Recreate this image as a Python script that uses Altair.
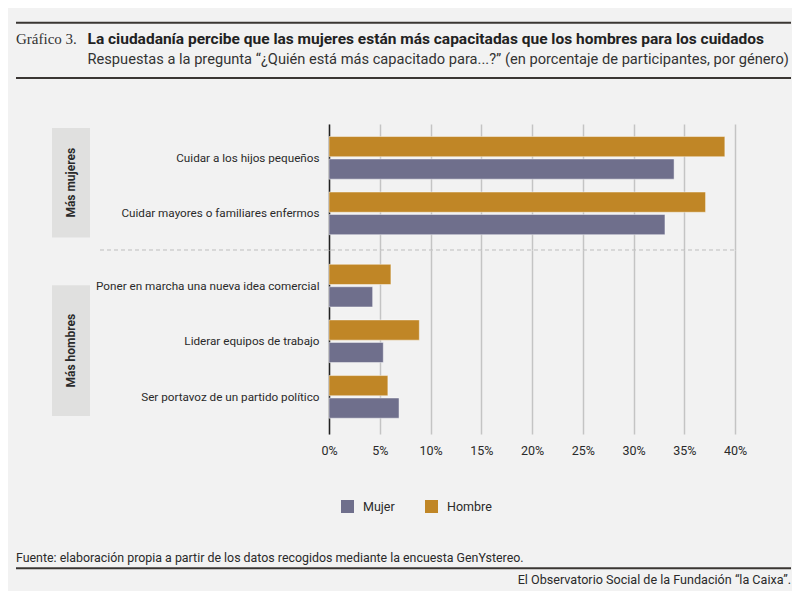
import altair as alt
import pandas as pd

# ---- data ----
items_top = ["Cuidar a los hijos pequeños", "Cuidar mayores o familiares enfermos"]
mujer_top = [34.0, 33.1]
hombre_top = [39.0, 37.1]

items_bottom = ["Poner en marcha una nueva idea comercial", "Liderar equipos de trabajo",
                "Ser portavoz de un partido político"]
mujer_bottom = [4.3, 5.35, 6.9]
hombre_bottom = [6.1, 8.9, 5.8]

group_labels = ["Más mujeres", "Más hombres"]
genders = ["Mujer", "Hombre"]
gender_colors = ["#6f6f8c", "#c08626"]
x_ticks = [0, 5, 10, 15, 20, 25, 30, 35, 40]

title_label = "Gráfico 3."
title_text = "La ciudadanía percibe que las mujeres están más capacitadas que los hombres para los cuidados"
subtitle_text = "Respuestas a la pregunta “¿Quién está más capacitado para...?” (en porcentaje de participantes, por género)"
source_text = "Fuente: elaboración propia a partir de los datos recogidos mediante la encuesta GenYstereo."
credit_text = "El Observatorio Social de la Fundación “la Caixa”."

W = 406
RIGHT = 462
LEFT = -313
FONT = "Roboto"
INK = "#2a2a2a"
LINE = "#3a3633"


def one(text=""):
    return pd.DataFrame({"t": [text]})


def bars_layer(items, mujer, hombre, height, pad_outer, align, bottom):
    n = len(items)
    df = pd.DataFrame({
        "item": items * 2,
        "genero": ["Mujer"] * n + ["Hombre"] * n,
        "valor": mujer + hombre,
    })
    if bottom:
        xaxis = alt.Axis(title=None, values=x_ticks, labelExpr="datum.value + '%'",
                         grid=True, domain=False, ticks=False, labelPadding=10,
                         labelFlush=False, labelFontSize=12.5, labelColor=INK,
                         labelFont=FONT)
    else:
        xaxis = alt.Axis(title=None, values=x_ticks, labels=False, ticks=False,
                         domain=False, grid=True)
    return alt.Chart(df).mark_bar(stroke="#ffffff", strokeOpacity=0.45, strokeWidth=1).encode(
        x=alt.X("valor:Q", scale=alt.Scale(domain=[0, 40], nice=False), axis=xaxis),
        y=alt.Y("item:N", sort=items,
                scale=alt.Scale(paddingInner=0.232, paddingOuter=pad_outer, align=align),
                axis=alt.Axis(title=None, ticks=False, grid=False, domain=True,
                              domainColor="#222222", domainWidth=1.5,
                              labelPadding=10, labelFontSize=11.7, labelColor=INK,
                              labelFont=FONT, labelLimit=300)),
        yOffset=alt.YOffset("genero:N", sort=["Hombre", "Mujer"],
                            scale=alt.Scale(paddingInner=0.1, paddingOuter=0)),
        color=alt.Color("genero:N", scale=alt.Scale(domain=genders, range=gender_colors),
                        legend=alt.Legend(title=None, orient="none", direction="horizontal",
                                          legendX=12, legendY=376, symbolType="square",
                                          symbolSize=169, symbolStrokeWidth=0,
                                          labelFontSize=12.5, labelFont=FONT, labelColor=INK,
                                          labelOffset=9, columnPadding=30, padding=0)),
    ).properties(width=W, height=height)


def group_box(label, y0, y1):
    box = alt.Chart(one()).mark_rect(color="#e0e0df").encode(
        x=alt.value(-277), x2=alt.value(-239), y=alt.value(y0), y2=alt.value(y1))
    txt = alt.Chart(one(label)).mark_text(angle=270, fontSize=12, fontWeight="bold",
                                          font=FONT, color=INK).encode(
        text="t:N", x=alt.value(-258), y=alt.value((y0 + y1) / 2))
    return box + txt


# ---- top panel ----
H_TOP = 126
top_bars = bars_layer(items_top, mujer_top, hombre_top, H_TOP, 0.251, 0.45, False)
top_rule = alt.Chart(one()).mark_rule(color=LINE, strokeWidth=2).encode(
    x=alt.value(LEFT), x2=alt.value(RIGHT), y=alt.value(-101.3))
mid_rule = alt.Chart(one()).mark_rule(color=LINE, strokeWidth=2).encode(
    x=alt.value(LEFT), x2=alt.value(RIGHT), y=alt.value(-46))
lab = alt.Chart(one(title_label)).mark_text(align="left", baseline="middle", fontSize=15,
                                            font="Liberation Serif", color="#333333").encode(
    text="t:N", x=alt.value(LEFT), y=alt.value(-84.7))
ttl = alt.Chart(one(title_text)).mark_text(align="left", baseline="middle", fontSize=15.5,
                                           fontWeight="bold", font=FONT, color="#222222").encode(
    text="t:N", x=alt.value(-241.5), y=alt.value(-84.7))
sub = alt.Chart(one(subtitle_text)).mark_text(align="left", baseline="middle", fontSize=14.65,
                                              font=FONT, color="#333333").encode(
    text="t:N", x=alt.value(-241.5), y=alt.value(-64.5))
sep = alt.Chart(one()).mark_rule(color="#bdbdbd", strokeWidth=1, strokeDash=[4, 3]).encode(
    x=alt.value(-229), x2=alt.value(W), y=alt.value(H_TOP))

top = alt.layer(top_bars, group_box(group_labels[0], 4, 113.5), sep,
                top_rule, mid_rule, lab, ttl, sub)

# ---- bottom panel ----
H_BOT = 184
bot_bars = bars_layer(items_bottom, mujer_bottom, hombre_bottom, H_BOT, 0.27, 0.477, True)
src = alt.Chart(one(source_text)).mark_text(align="left", baseline="middle", fontSize=12.4,
                                            font=FONT, color=INK).encode(
    text="t:N", x=alt.value(LEFT), y=alt.value(308))
bot_rule = alt.Chart(one()).mark_rule(color=LINE, strokeWidth=2).encode(
    x=alt.value(LEFT), x2=alt.value(RIGHT), y=alt.value(318.3))
cred = alt.Chart(one(credit_text)).mark_text(align="right", baseline="middle", fontSize=12.6,
                                             font=FONT, color=INK).encode(
    text="t:N", x=alt.value(RIGHT), y=alt.value(329.7))

bottom = alt.layer(bot_bars, group_box(group_labels[1], 35.3, 166), src, bot_rule, cred)

chart = alt.vconcat(top, bottom, spacing=0, bounds="flush").properties(
    padding={"left": 7, "top": 13, "right": 0, "bottom": 4},
    background="#f2f2f2",
).configure_view(stroke=None).configure_axis(
    gridColor="#c4c4c4", gridWidth=1.5
)

chart.save("out.html", embed_options={"renderer": "svg", "actions": False})
